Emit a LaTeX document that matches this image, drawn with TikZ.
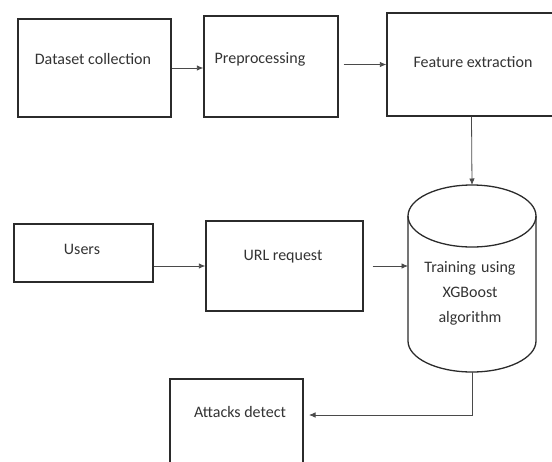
\documentclass[tikz,border=0pt]{standalone}
\usepackage{fontspec}
\setmainfont{Carlito}
\usepackage{xcolor}
\usetikzlibrary{arrows.meta,calc}
\definecolor{edge}{HTML}{2B2B2B}
\definecolor{wire}{HTML}{4A4A4A}
\definecolor{ink}{HTML}{333333}

\begin{document}
\begin{tikzpicture}[x=1pt,y=-1pt,
  box/.style={draw=edge,line width=1.3pt,fill=white,inner sep=0pt},
  txt/.style={text=ink,font=\fontsize{16}{19}\selectfont,inner sep=0pt,align=center},
  wire/.style={draw=wire,line width=0.8pt},
  >={Latex[length=6.5pt,width=5.5pt]}]
  \useasboundingbox (0,0) rectangle (552,461);
  \clip (0,0) rectangle (552,461);
  % top row
  \node[box,minimum width=153pt,minimum height=98pt] (data) at (94.5,68) {};
  \node[box,minimum width=134pt,minimum height=101pt] (prep) at (271,66.5) {};
  \node[box,minimum width=169pt,minimum height=103pt] (feat) at (471.5,64.5) {};
  \node[txt] (data-t) at (93,59) {Dataset collection};
  \node[txt] (prep-t) at (260,59) {Preprocessing};
  \node[txt] (feat-t) at (473,62) {Feature extraction};
  % middle row
  \node[box,minimum width=139pt,minimum height=58pt] (users) at (83.5,253) {};
  \node[box,minimum width=157pt,minimum height=90pt] (url) at (284.5,266) {};
  \node[txt] (users-t) at (82,249) {Users};
  \node[txt] (url-t) at (283,257) {URL request};
  % cylinder
  \coordinate (cyltop) at (472,185);
  \coordinate (cylleft) at (408,266);
  \coordinate (cylbot) at (472,372);
  \draw[edge,line width=1.3pt] (408,216) -- (408,341) arc[start angle=180,end angle=0,x radius=64,y radius=31] -- (536,216);
  \draw[edge,line width=1.3pt] (472,216) ellipse[x radius=64,y radius=31];
  \node[txt,text width=120pt] (train) at (470,293) {Training using\\[6pt]XGBoost\\[6pt]algorithm};
  % bottom
  \node[box,minimum width=133pt,minimum height=96pt] (attack) at (236.5,427) {};
  \node[txt] (attack-t) at (240,412) {Attacks detect};
  \coordinate (attack-in) at (303,415);
  % connectors
  \draw[wire,->] (data.east) -- (data.east -| prep.west);
  \draw[wire,->,shorten <=5pt] (prep.east |- feat.west) -- (feat.west);
  \draw[wire,->] (feat.south) -- (cyltop);
  \draw[wire,->] (users.east |- url.west) -- (url.west);
  \draw[wire,->,shorten <=9pt] (url.east) -- (cylleft);
  \draw[wire,->,shorten >=6pt] (cylbot) |- (attack-in);
\end{tikzpicture}
\end{document}
